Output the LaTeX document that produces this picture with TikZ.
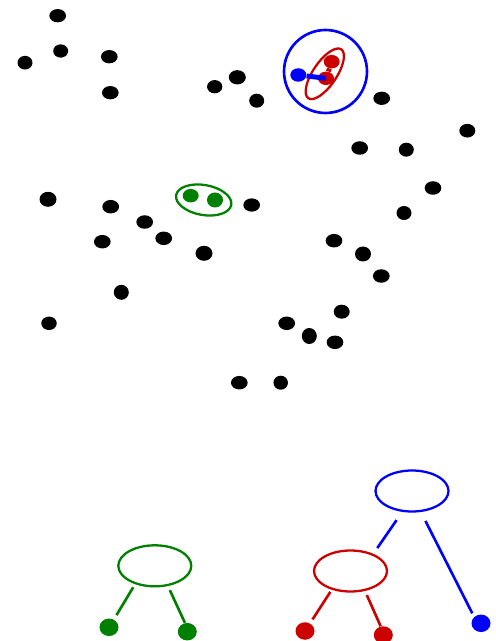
\documentclass[tikz,border=0pt]{standalone}
\usetikzlibrary{shapes.geometric}
\definecolor{grn}{RGB}{0,128,0}
\definecolor{rd}{RGB}{204,0,0}
\definecolor{blu}{RGB}{0,0,255}
\begin{document}
\begin{tikzpicture}[x=0.02cm, y=-0.02cm,
  blob/.style={ellipse, fill=#1, inner sep=0pt, minimum width=0.32cm, minimum height=0.27cm},
  blob/.default=black,
  hull/.style={ellipse, draw=#1, line width=1.3pt, inner sep=0pt},
  parent/.style={ellipse, draw=#1, line width=1.3pt, inner sep=0pt,
                 minimum width=1.46cm, minimum height=0.82cm},
  leaf/.style={ellipse, fill=#1, inner sep=0pt, minimum width=0.38cm, minimum height=0.35cm},
  branch/.style={draw=#1, line width=1.5pt},
  link/.style={draw=#1, line width=2.8pt}
]
\useasboundingbox (0,0) rectangle (495,641);

% loose points
\foreach \x/\y/\w/\h [count=\i] in {57.7/15.7/16.7/13.3, 60.7/51/15/13.3, 25/62.7/15/13.7,
    109.3/56.7/16.7/13.3, 110.3/92.7/16.7/13.3, 214.7/86.7/15.3/13.3, 237.3/77.3/17/14.3,
    256.7/100.7/15/14, 381.7/98.3/16.7/13.3, 467.3/130.7/16/13.7, 359.7/148/16.7/13.5,
    406.3/149.7/15/14, 433/188/16.7/13.5, 404/213/15/14, 251.7/205/16.7/13.3,
    48/199.3/17/15, 110.7/206.7/16.7/13.5, 144.7/222/16.7/13.5, 102.3/241.7/16.7/13.5,
    163.7/238.3/16.7/13.5, 204/253.3/17/15, 121.3/292.3/15/15, 49/323.3/15.5/13.5,
    334/240.7/16.7/13.5, 363/254/16/15, 381.3/276/16.7/13.5, 341.7/311.7/16/14,
    286.7/323.3/16.7/13.5, 309.3/336/15/16, 335/342.3/16.7/13.5, 239.3/382.7/16.7/13.5,
    280.7/382.7/14.5/14}
  \node[blob, minimum width=\w*0.02cm, minimum height=\h*0.02cm] (p\i) at (\x,\y) {};

% green pair
\node[hull=grn, minimum width=1.12cm, minimum height=0.6cm, rotate=-10] (gE) at (203.7,200) {};
\node[blob=grn] (g1) at (190.7,195.7) {};
\node[blob=grn, minimum height=0.3cm] (g2) at (215,200) {};

% red pair inside blue ring
\node[hull=rd, minimum width=1.18cm, minimum height=0.47cm, rotate=56] (rE) at (324.8,73.8) {};
\node[blob=rd] (r1) at (331.7,61.7) {};
\node[blob=rd] (r2) at (326,78.3) {};
\draw[link=rd] (r1) -- (r2);
\node[hull=blu, line width=1.5pt, minimum width=1.66cm, minimum height=1.66cm] (bC) at (325.5,71.5) {};
\node[blob=blu] (b1) at (298.3,75) {};
\draw[link=blu] (b1) -- (r2.center);

% trees
\node[parent=grn] (gT) at (154.8,565.8) {};
\node[leaf=grn] (gL) at (109,627.3) {};
\node[leaf=grn] (gR) at (187.3,631.7) {};
\draw[branch=grn, shorten <=0.07cm, shorten >=0.1cm] (gT.223) -- (gL.58);
\draw[branch=grn, shorten <=0.09cm] (gT.-57.5) -- (gR.105);

\node[parent=rd] (rT) at (350.5,571) {};
\node[leaf=rd] (rL) at (305,631) {};
\node[leaf=rd] (rR) at (383.3,635) {};
\draw[branch=rd, shorten <=0.05cm, shorten >=0.09cm] (rT.225) -- (rL.57);
\draw[branch=rd, shorten <=0.09cm] (rT.-54) -- (rR.107);

\node[parent=blu] (bT) at (412,491) {};
\node[leaf=blu] (bL) at (481,623.3) {};
\draw[branch=blu, shorten <=0.2cm, shorten >=0.14cm] (bT.245) -- (rT.37);
\draw[branch=blu, shorten <=0.2cm, shorten >=0.08cm] (bT.-67) -- (bL.137);

\end{tikzpicture}
\end{document}
